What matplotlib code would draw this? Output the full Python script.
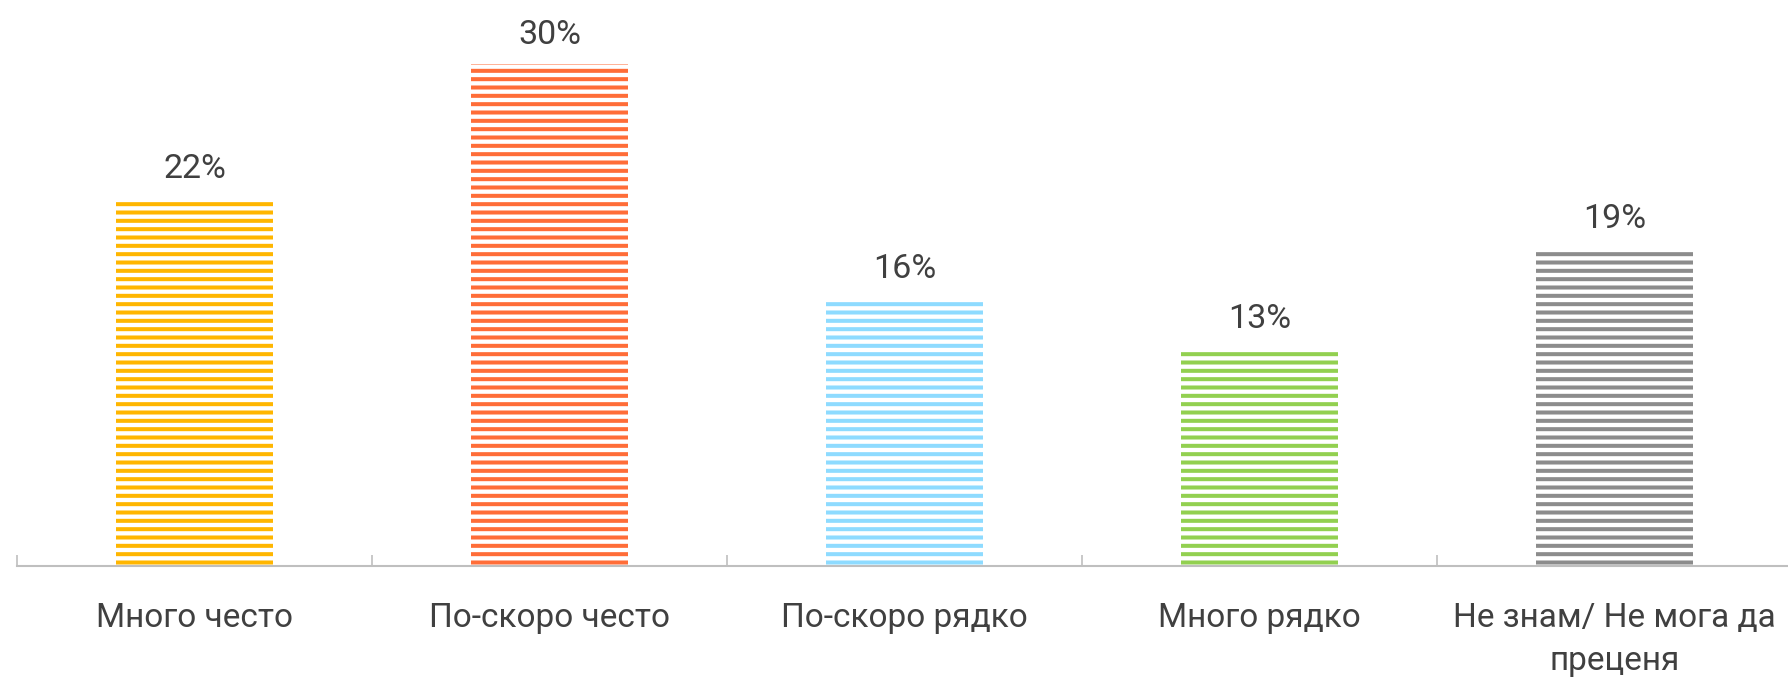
import matplotlib.pyplot as plt

categories = ['Много често', 'По-скоро често', 'По-скоро рядко', 'Много рядко', 'Не знам/ Не мога да\nпреценя']
values = [22, 30, 16, 13, 19]
colors = ['#FFB600', '#FF6D38', '#8EDBFF', '#92D050', '#8C8C8C']

plt.rcParams['font.family'] = ['Roboto', 'DejaVu Sans']
plt.rcParams['hatch.linewidth'] = 2.9
text_color = '#404040'

fig = plt.figure(figsize=(17.88, 6.78), dpi=100)
ax = fig.add_axes([0.0095, 0.165, 0.9927, 0.835])

x = range(len(categories))
for i, (v, c) in enumerate(zip(values, colors)):
    ax.bar(i, v, width=0.44, facecolor='white', edgecolor=c, linewidth=0, hatch='--')
    ax.text(i, v + 0.8, f'{v}%', ha='center', va='bottom', fontsize=24.5, color=text_color)

ax.set_xlim(-0.5, 4.5)
ax.set_ylim(0, 33.85)
ax.set_yticks([])
ax.set_xticks([i - 0.5 for i in range(len(categories) + 1)])
ax.set_xticklabels([])
ax.set_xticks(list(x), minor=True)
ax.set_xticklabels(categories, minor=True, fontsize=24, color=text_color, linespacing=1.45)
ax.tick_params(axis='x', which='major', direction='in', length=8, width=1.2, color='#BFBFBF')
ax.tick_params(axis='x', which='minor', length=0, pad=26)

for s in ['top', 'right', 'left']:
    ax.spines[s].set_visible(False)
ax.spines['bottom'].set_color('#BFBFBF')
ax.spines['bottom'].set_linewidth(1.5)

fig.savefig('out.png', dpi=100)
